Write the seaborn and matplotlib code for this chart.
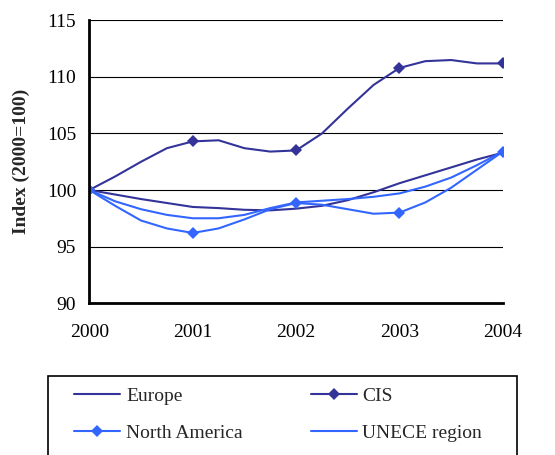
import pandas as pd
import seaborn as sns
import matplotlib.pyplot as plt
from matplotlib.patches import Rectangle

# values at quarter-year steps
years = [2000, 2000.25, 2000.5, 2000.75, 2001, 2001.25, 2001.5, 2001.75, 2002,
         2002.25, 2002.5, 2002.75, 2003, 2003.25, 2003.5, 2003.75, 2004]
europe = [100, 99.6, 99.2, 98.85, 98.5, 98.4, 98.25, 98.2, 98.35,
          98.6, 99.1, 99.8, 100.6, 101.3, 102.0, 102.7, 103.3]
cis = [100, 101.2, 102.5, 103.7, 104.3, 104.4, 103.7, 103.4, 103.5,
       105.0, 107.2, 109.3, 110.8, 111.4, 111.5, 111.2, 111.2]
north_america = [100, 98.6, 97.3, 96.6, 96.2, 96.6, 97.4, 98.3, 98.85,
                 98.7, 98.3, 97.9, 98.0, 98.9, 100.2, 101.8, 103.4]
unece = [100, 99.0, 98.3, 97.8, 97.5, 97.5, 97.8, 98.4, 98.9,
         99.05, 99.2, 99.4, 99.7, 100.3, 101.1, 102.2, 103.4]
year_ticks = [2000, 2001, 2002, 2003, 2004]

dark = '#333399'
light = '#3366FF'

sns.set_style('white')
plt.rcParams['font.family'] = ['Liberation Serif', 'DejaVu Serif']

fig = plt.figure(figsize=(5.55, 4.55), dpi=100)
ax = fig.add_axes([0.161, 0.334, 0.745, 0.621])

series = [('Europe', europe, dark, None),
          ('CIS', cis, dark, 'D'),
          ('North America', north_america, light, 'D'),
          ('UNECE region', unece, light, None)]
for name, vals, col, mk in series:
    df = pd.DataFrame({'year': years, 'value': vals})
    sns.lineplot(data=df, x='year', y='value', ax=ax, color=col, lw=1.5,
                 marker=mk, markersize=6.5, markevery=4, markeredgewidth=0,
                 label=name)

ax.set_xlim(2000, 2004)
ax.set_ylim(90, 115)
ax.set_xticks(year_ticks)
ax.set_xticklabels([str(y) for y in year_ticks])
ax.set_yticks(range(90, 116, 5))
ax.yaxis.grid(True, color='black', lw=0.8)
ax.set_axisbelow(True)
for s in ['top', 'right']:
    ax.spines[s].set_visible(False)
for s in ['left', 'bottom']:
    ax.spines[s].set_linewidth(2)
    ax.spines[s].set_color('black')
ax.tick_params(axis='both', direction='out', length=6, width=2, labelsize=14, colors='black')
ax.tick_params(axis='x', pad=9)
ax.set_xlabel('')
ax.set_ylabel('Index (2000=100)', fontsize=14, fontweight='bold', labelpad=12)

ax.legend().remove()
h, l = ax.get_legend_handles_labels()
# box of the legend, running off the bottom edge like the original
fig.patches.append(Rectangle((0.0865, -0.02), 0.845, 0.194, transform=fig.transFigure,
                             fill=False, edgecolor='black', lw=1.2))
# row-wise order like the original: Europe, CIS / North America, UNECE
order = [0, 2, 1, 3]
fig.legend([h[i] for i in order], [l[i] for i in order], ncol=2, loc='center left',
           bbox_to_anchor=(0.1333, 0.089), borderaxespad=0, borderpad=0,
           fontsize=14, frameon=False, handlelength=2.37, handletextpad=0.3,
           labelspacing=1.0, columnspacing=3.5)

fig.savefig('out.png', dpi=100)
